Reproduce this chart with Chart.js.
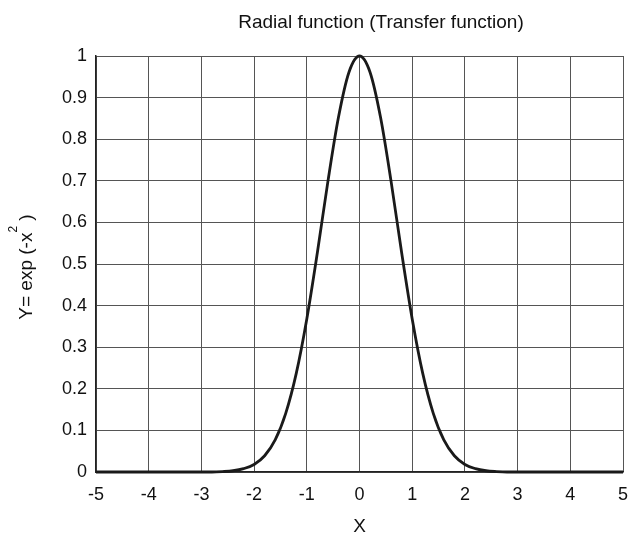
<!DOCTYPE html>
<html>
<head>
<meta charset="utf-8">
<script src="https://cdn.jsdelivr.net/npm/chart.js@4"></script>
<style>
  html, body { margin:0; padding:0; background:#fff; }
  #wrap { width:629px; height:536px; }
</style>
</head>
<body>
<div id="wrap"><canvas id="grafico" width="629" height="536"></canvas></div>
<script>
const TITULO = 'Radial function (Transfer function)';
const ROTULO_X = 'X';
const ROTULO_Y = ['Y= exp (-x', '2', ' )'];

// valores
const xs = [-5,-4.8,-4.6,-4.4,-4.2,-4,-3.8,-3.6,-3.4,-3.2,-3,-2.8,-2.6,-2.4,-2.2,-2,-1.8,-1.6,-1.4,-1.2,-1,-0.8,-0.6,-0.4,-0.2,
  0,0.2,0.4,0.6,0.8,1,1.2,1.4,1.6,1.8,2,2.2,2.4,2.6,2.8,3,3.2,3.4,3.6,3.8,4,4.2,4.4,4.6,4.8,5];
const ys = [0,0,0,0,0,0,0,0,0,0,0,0,0.001,0.003,0.008,0.018,0.039,0.077,0.141,0.237,0.368,0.527,0.698,0.852,0.961,
  1,0.961,0.852,0.698,0.527,0.368,0.237,0.141,0.077,0.039,0.018,0.008,0.003,0.001,0,0,0,0,0,0,0,0,0,0,0,0];
const xTicks = [-5,-4,-3,-2,-1,0,1,2,3,4,5];
const yTicks = [0,0.1,0.2,0.3,0.4,0.5,0.6,0.7,0.8,0.9,1];

const FONTE = 'Liberation Sans, Arial, sans-serif';

// titulo e rotulos dos eixos (o do Y tem expoente)
const textosPlugin = {
  id: 'textosPlugin',
  afterDraw(chart) {
    const ctx = chart.ctx;
    const area = chart.chartArea;
    ctx.save();
    ctx.fillStyle = '#111';
    ctx.textBaseline = 'middle';
    ctx.textAlign = 'center';
    ctx.font = '19px ' + FONTE;
    ctx.fillText(TITULO, 381, 23);
    ctx.fillText(ROTULO_X, (area.left + area.right) / 2, 527);

    // rotulo Y rotacionado
    const big = '19px ' + FONTE, small = '12px ' + FONTE;
    ctx.font = big;
    const w0 = ctx.measureText(ROTULO_Y[0]).width;
    const w2 = ctx.measureText(ROTULO_Y[2]).width;
    ctx.font = small;
    const w1 = ctx.measureText(ROTULO_Y[1]).width;
    const total = w0 + w1 + w2;
    ctx.translate(32, (area.top + area.bottom) / 2 + 3);
    ctx.rotate(-Math.PI / 2);
    ctx.textAlign = 'left';
    ctx.textBaseline = 'alphabetic';
    let x = -total / 2;
    ctx.font = big;
    ctx.fillText(ROTULO_Y[0], x, 0);
    x += w0;
    ctx.font = small;
    ctx.fillText(ROTULO_Y[1], x, -15);
    x += w1;
    ctx.font = big;
    ctx.fillText(ROTULO_Y[2], x, 0);
    ctx.restore();
  }
};

new Chart(document.getElementById('grafico'), {
  type: 'line',
  data: {
    datasets: [{
      data: xs.map((x, i) => ({ x, y: ys[i] })),
      borderColor: '#1a1a1a',
      borderWidth: 2.8,
      pointRadius: 0,
      cubicInterpolationMode: 'monotone',
      fill: false,
      clip: false
    }]
  },
  options: {
    responsive: false,
    animation: false,
    layout: { padding: { top: 56, right: 6, left: 0, bottom: 0 } },
    plugins: { legend: { display: false }, title: { display: false }, tooltip: { enabled: false } },
    scales: {
      x: {
        type: 'linear', min: -5, max: 5,
        afterFit: s => { s.height = 64; s.paddingLeft = 0; s.paddingRight = 0; },
        afterBuildTicks: s => { s.ticks = xTicks.map(v => ({ value: v })); },
        grid: { color: '#555', lineWidth: 1, drawTicks: false },
        border: { color: '#222', width: 1.5 },
        ticks: { color: '#111', font: { family: FONTE, size: 18 }, padding: 12, maxRotation: 0, autoSkip: false }
      },
      y: {
        type: 'linear', min: 0, max: 1,
        afterFit: s => { s.width = 96; s.paddingTop = 0; s.paddingBottom = 0; },
        afterBuildTicks: s => { s.ticks = yTicks.map(v => ({ value: v })); },
        grid: { color: '#555', lineWidth: 1, drawTicks: false },
        border: { color: '#222', width: 1.5 },
        ticks: { color: '#111', font: { family: FONTE, size: 18 }, padding: 9, autoSkip: false,
          callback: v => String(Math.round(v * 10) / 10) }
      }
    }
  },
  plugins: [textosPlugin]
});
</script>
</body>
</html>
